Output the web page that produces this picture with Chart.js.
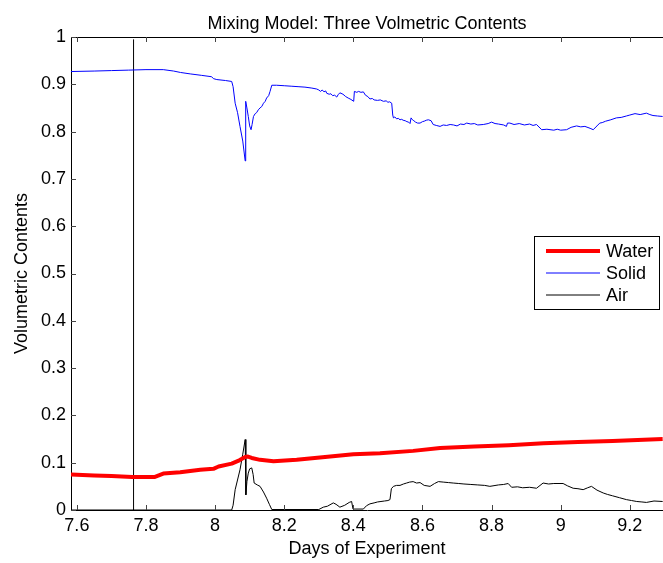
<!DOCTYPE html>
<html>
<head>
<meta charset="utf-8">
<title>Mixing Model</title>
<script src="https://cdn.jsdelivr.net/npm/chart.js@4.4.1/dist/chart.umd.min.js"></script>
<style>
    html, body { margin: 0; padding: 0; background: #fff; overflow: hidden; }
    #wrap { width: 663px; height: 563px; }
</style>
</head>
<body>
<div id="wrap"><canvas id="grafico" width="663" height="563"></canvas></div>
<script>
// days of experiment / volumetric content for each phase
const solidX = [7.583, 7.65, 7.70, 7.75, 7.80, 7.85, 7.88, 7.90, 7.928, 7.96, 7.99, 7.995, 8.005, 8.03, 8.048,
    8.052, 8.058, 8.065, 8.072, 8.080, 8.087, 8.088, 8.089, 8.092, 8.096, 8.100, 8.104, 8.107, 8.111, 8.116,
    8.120, 8.125, 8.130, 8.135, 8.140, 8.145, 8.149, 8.155, 8.159, 8.164, 8.178, 8.20, 8.22, 8.24, 8.26,
    8.28, 8.294, 8.300, 8.305, 8.310, 8.315, 8.320, 8.323, 8.330, 8.335, 8.340, 8.346, 8.352, 8.356, 8.361,
    8.370, 8.378, 8.385, 8.393, 8.401, 8.403, 8.410, 8.415, 8.422, 8.429, 8.435, 8.442, 8.448, 8.455, 8.46,
    8.47, 8.478, 8.487, 8.495, 8.50, 8.505, 8.511, 8.514, 8.516, 8.520, 8.525, 8.530, 8.535, 8.540, 8.544,
    8.550, 8.555, 8.560, 8.564, 8.567, 8.571, 8.575, 8.580, 8.586, 8.593, 8.600, 8.605, 8.611, 8.617, 8.625,
    8.631, 8.640, 8.651, 8.660, 8.67, 8.68, 8.69, 8.70, 8.71, 8.72, 8.728, 8.74, 8.75, 8.76, 8.776,
    8.79, 8.800, 8.81, 8.82, 8.835, 8.843, 8.846, 8.853, 8.865, 8.88, 8.895, 8.91, 8.92, 8.930, 8.945,
    8.96, 8.98, 8.99, 9.00, 9.017, 9.03, 9.046, 9.058, 9.070, 9.085, 9.094, 9.105, 9.113, 9.12, 9.13,
    9.145, 9.161, 9.175, 9.19, 9.20, 9.215, 9.23, 9.248, 9.258, 9.267, 9.28, 9.295];
const solidY = [0.927, 0.928, 0.929, 0.930, 0.931, 0.931, 0.928, 0.925, 0.922, 0.919, 0.916, 0.912, 0.910, 0.908, 0.906,
    0.895, 0.860, 0.840, 0.811, 0.780, 0.738, 0.800, 0.864, 0.850, 0.832, 0.812, 0.804, 0.815, 0.832, 0.838,
    0.840, 0.846, 0.850, 0.853, 0.860, 0.864, 0.871, 0.876, 0.885, 0.898, 0.898, 0.897, 0.896, 0.895, 0.894,
    0.892, 0.890, 0.888, 0.885, 0.888, 0.884, 0.886, 0.881, 0.879, 0.880, 0.876, 0.877, 0.873, 0.878, 0.882,
    0.879, 0.874, 0.871, 0.868, 0.864, 0.885, 0.883, 0.885, 0.883, 0.884, 0.877, 0.874, 0.869, 0.870, 0.867,
    0.866, 0.867, 0.864, 0.865, 0.862, 0.863, 0.860, 0.835, 0.829, 0.831, 0.827, 0.828, 0.825, 0.826, 0.824,
    0.823, 0.821, 0.820, 0.817, 0.829, 0.825, 0.823, 0.820, 0.818, 0.818, 0.821, 0.822, 0.824, 0.825, 0.823,
    0.815, 0.813, 0.811, 0.814, 0.813, 0.815, 0.814, 0.812, 0.816, 0.815, 0.818, 0.816, 0.817, 0.814, 0.815,
    0.817, 0.820, 0.817, 0.816, 0.814, 0.811, 0.818, 0.818, 0.815, 0.817, 0.814, 0.816, 0.813, 0.815, 0.804,
    0.805, 0.803, 0.805, 0.803, 0.804, 0.809, 0.812, 0.810, 0.811, 0.807, 0.804, 0.812, 0.818, 0.819, 0.822,
    0.825, 0.829, 0.830, 0.833, 0.835, 0.838, 0.836, 0.839, 0.836, 0.834, 0.833, 0.832];

const waterX = [7.583, 7.65, 7.70, 7.76, 7.826, 7.85, 7.899, 7.957, 7.995, 8.010, 8.048, 8.070, 8.087, 8.095,
    8.106, 8.130, 8.169, 8.236, 8.333, 8.400, 8.477, 8.573, 8.651, 8.75, 8.85, 8.95, 9.05, 9.15, 9.295];
const waterY = [0.075, 0.073, 0.072, 0.070, 0.070, 0.077, 0.080, 0.085, 0.087, 0.092, 0.098, 0.105, 0.112, 0.113,
    0.110, 0.106, 0.103, 0.106, 0.113, 0.118, 0.120, 0.125, 0.131, 0.134, 0.137, 0.141, 0.144, 0.146, 0.150];

const airX = [7.583, 8.048, 8.052, 8.058, 8.072, 8.080, 8.087, 8.089, 8.092, 8.096, 8.100, 8.106, 8.110, 8.113, 8.122,
    8.130, 8.140, 8.149, 8.157, 8.164, 8.30, 8.313, 8.325, 8.342, 8.350, 8.361, 8.375, 8.388, 8.395, 8.399,
    8.429, 8.438, 8.448, 8.46, 8.47, 8.48, 8.49, 8.50, 8.506, 8.510, 8.516, 8.525, 8.535, 8.545, 8.554,
    8.563, 8.573, 8.583, 8.593, 8.605, 8.622, 8.635, 8.646, 8.66, 8.675, 8.689, 8.705, 8.72, 8.74, 8.76,
    8.78, 8.795, 8.82, 8.835, 8.848, 8.858, 8.875, 8.89, 8.91, 8.930, 8.949, 8.965, 8.98, 9.007, 9.02,
    9.036, 9.05, 9.065, 9.078, 9.089, 9.105, 9.123, 9.135, 9.15, 9.17, 9.190, 9.205, 9.22, 9.235, 9.248, 9.27, 9.295];
const airY = [0, 0, 0.010, 0.043, 0.085, 0.118, 0.149, 0.032, 0.060, 0.078, 0.087, 0.089, 0.075, 0.057, 0.053,
    0.050, 0.038, 0.025, 0.012, 0.001, 0.001, 0.006, 0.008, 0.015, 0.012, 0.006, 0.010, 0.016, 0.018, 0.002,
    0.002, 0.009, 0.013, 0.015, 0.017, 0.018, 0.019, 0.020, 0.022, 0.045, 0.050, 0.052, 0.052, 0.055, 0.057,
    0.059, 0.060, 0.057, 0.058, 0.052, 0.050, 0.056, 0.060, 0.059, 0.058, 0.057, 0.056, 0.055, 0.054, 0.053,
    0.052, 0.050, 0.053, 0.054, 0.056, 0.048, 0.049, 0.047, 0.048, 0.046, 0.057, 0.055, 0.056, 0.056, 0.051,
    0.046, 0.045, 0.043, 0.047, 0.050, 0.042, 0.036, 0.033, 0.030, 0.026, 0.022, 0.020, 0.018, 0.017, 0.016, 0.019, 0.018];

// vertical marker line
const markerX = [7.764, 7.764];
const markerY = [0, 0.995];

const xTicks = [7.6, 7.8, 8, 8.2, 8.4, 8.6, 8.8, 9, 9.2];
const yTicks = [0, 0.1, 0.2, 0.3, 0.4, 0.5, 0.6, 0.7, 0.8, 0.9, 1];

const serie = ["Water", "Solid", "Air"];
const colori = ["#ff0000", "#0000ff", "#000000"];
const spessori = [4, 1, 1];

const FONT = "'Liberation Sans', Arial, Helvetica, sans-serif";
const FS = 18;

function punti(xs, ys) {
    const out = [];
    for (let i = 0; i < xs.length; i++) out.push({x: xs[i], y: ys[i]});
    return out;
}

// title, top border, inward tick marks and the boxed legend
const cornice = {
    id: "cornice",
    afterDraw(chart) {
        const c = chart.ctx;
        const a = chart.chartArea;
        const sx = chart.scales.x, sy = chart.scales.y;
        c.save();
        c.strokeStyle = "#000";
        c.lineWidth = 1;
        c.beginPath();
        c.moveTo(a.left, a.top + 0.5);
        c.lineTo(a.right, a.top + 0.5);
        c.stroke();

        c.strokeStyle = "#444";
        c.beginPath();
        xTicks.forEach(v => {
            const px = Math.round(sx.getPixelForValue(v)) + 0.5;
            c.moveTo(px, a.bottom); c.lineTo(px, a.bottom - 5);
            c.moveTo(px, a.top); c.lineTo(px, a.top + 5);
        });
        yTicks.forEach(v => {
            const py = Math.round(sy.getPixelForValue(v)) + 0.5;
            c.moveTo(a.left, py); c.lineTo(a.left + 5, py);
        });
        c.stroke();

        c.fillStyle = "#000";
        c.font = FS + "px " + FONT;
        c.textAlign = "center";
        c.textBaseline = "middle";
        c.fillText("Mixing Model: Three Volmetric Contents", (a.left + a.right) / 2, 24);

        // legend
        const lx = 534.5, ly = 236.5, lw = 125, lh = 73;
        c.fillStyle = "#fff";
        c.fillRect(lx, ly, lw, lh);
        c.strokeStyle = "#000";
        c.lineWidth = 1;
        c.strokeRect(lx, ly, lw, lh);
        c.textAlign = "left";
        for (let i = 0; i < serie.length; i++) {
            const yy = 251 + i * 22;
            c.strokeStyle = colori[i];
            c.lineWidth = spessori[i];
            c.beginPath();
            c.moveTo(546, yy);
            c.lineTo(600, yy);
            c.stroke();
            c.fillStyle = "#000";
            c.fillText(serie[i], 606, yy + 1);
        }
        c.restore();
    }
};

const datiSerie = [punti(waterX, waterY), punti(solidX, solidY), punti(airX, airY)];
const datasets = serie.map((nome, i) => ({
    label: nome,
    data: datiSerie[i],
    borderColor: colori[i],
    borderWidth: spessori[i]
}));
datasets.push({label: "marker", data: punti(markerX, markerY), borderColor: "#000000", borderWidth: 1});

const chart = new Chart(document.getElementById("grafico").getContext("2d"), {
    type: "line",
    data: {datasets: datasets},
    options: {
        responsive: false,
        animation: false,
        events: [],
        elements: {
            point: {radius: 0},
            line: {tension: 0, fill: false, borderJoinStyle: "round"}
        },
        layout: {padding: {top: 37, right: 0, left: 0, bottom: 0}},
        plugins: {legend: {display: false}, tooltip: {enabled: false}, title: {display: false}},
        scales: {
            x: {
                type: "linear",
                min: 7.583,
                max: 9.296,
                afterBuildTicks: s => { s.ticks = xTicks.map(v => ({value: v})); },
                afterFit: s => { s.height = 53; },
                grid: {display: false, drawTicks: false},
                border: {display: true, color: "#000", width: 1},
                ticks: {
                    color: "#000",
                    font: {family: FONT, size: FS},
                    padding: 5,
                    maxRotation: 0,
                    callback: v => String(+v.toFixed(2))
                },
                title: {display: true, text: "Days of Experiment", color: "#000",
                    font: {family: FONT, size: FS}, padding: {top: 0, bottom: 3}}
            },
            y: {
                min: 0,
                max: 1,
                afterBuildTicks: s => { s.ticks = yTicks.map(v => ({value: v})); },
                afterFit: s => { s.width = 71; },
                grid: {display: false, drawTicks: false},
                border: {display: true, color: "#000", width: 1},
                ticks: {
                    color: "#000",
                    font: {family: FONT, size: FS},
                    padding: 5,
                    callback: v => String(+v.toFixed(2))
                },
                title: {display: true, text: "Volumetric Contents", color: "#000",
                    font: {family: FONT, size: FS}, padding: {top: 11, bottom: 0}}
            }
        }
    },
    plugins: [cornice]
});
</script>
</body>
</html>
